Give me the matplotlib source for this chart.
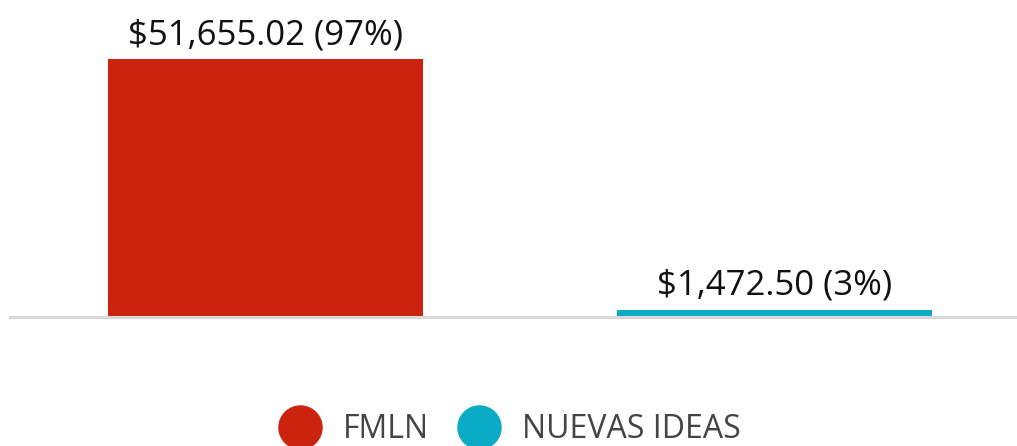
import matplotlib.pyplot as plt
from matplotlib.lines import Line2D

parties = ['FMLN', 'NUEVAS IDEAS']
amounts = [51655.02, 1472.50]
shares = [97, 3]
colors = ['#cc230e', '#0aabc4']

plt.rcParams['font.family'] = ['Open Sans', 'DejaVu Sans']

W, H = 1017, 446
fig = plt.figure(figsize=(W / 100, H / 100), dpi=100)
# axes placed in pixels: baseline at y=317, from x=10 to the right edge
ax = fig.add_axes([10 / W, (H - 317) / H, (W - 10) / W, 317 / H])

xs = list(range(len(parties)))
ax.bar(xs, amounts, width=315 / 509, color=colors)
ax.set_xlim(-(265.5 - 10) / 509, (W - 265.5) / 509)
ax.set_ylim(0, amounts[0] * 317 / 258)

for x, a, s in zip(xs, amounts, shares):
    ax.annotate('${:,.2f} ({}%)'.format(a, s), (x, a), xytext=(0, 5),
                textcoords='offset points', ha='center', va='bottom',
                fontsize=25, color='#111111')

ax.axhline(0, color='#d9d9d9', lw=2.2, clip_on=False)
for sp in ax.spines.values():
    sp.set_visible(False)
ax.set_xticks([])
ax.set_yticks([])

handles = [Line2D([], [], marker='o', ls='', markersize=31, color=c) for c in colors]
fig.legend(handles, parties, loc='center', bbox_to_anchor=(0.5, 1 - 430 / H),
           ncol=2, frameon=False, fontsize=23, labelcolor='#444444',
           handletextpad=0.6, columnspacing=0.8, handlelength=1.5)

fig.savefig('out.png', dpi=100)
